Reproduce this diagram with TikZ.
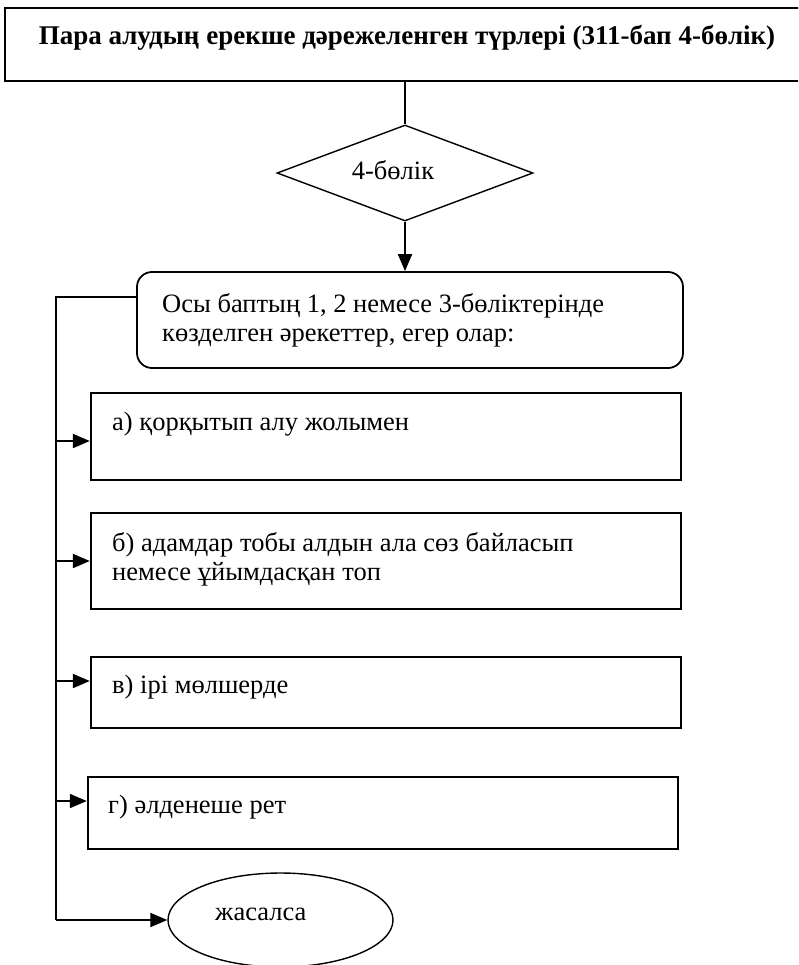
\documentclass[tikz,border=0pt]{standalone}
\usepackage{fontspec}
\setmainfont{Liberation Serif}
\usepackage{tikz}
\usetikzlibrary{positioning, shapes.geometric, arrows.meta}
\tikzset{
	headnode/.style={
			draw=black,
			line width=2pt,
			minimum width=805pt,
			minimum height=73pt,
			inner sep=0pt
		},
	choicenode/.style={
			diamond,
			draw=black,
			line width=1.4pt,
			minimum width=256pt,
			minimum height=96pt,
			inner sep=0pt
		},
	roundnode/.style={
			draw=black,
			line width=1.8pt,
			rounded corners=15pt,
			minimum width=546pt,
			minimum height=96pt,
			inner sep=0pt
		},
	itemnode/.style={
			draw=black,
			line width=2.4pt,
			inner sep=0pt
		},
	endnode/.style={
			ellipse,
			draw=black,
			line width=1.4pt,
			minimum width=225pt,
			minimum height=94pt,
			inner sep=0pt
		},
	textnode/.style={
			inner sep=0pt,
			align=left,
			font=\rmfamily\fontsize{26.5}{29}\selectfont
		},
	titlenode/.style={
			inner sep=0pt,
			font=\rmfamily\fontsize{27}{30}\selectfont\bfseries
		},
	conn/.style={
			line width=2pt
		},
	arrowline/.style={
			line width=2pt,
			-{Triangle[length=17pt,width=14pt]}
		}
}

\begin{document}
\begin{tikzpicture}[x=1pt, y=-1pt]
\useasboundingbox (0,0) rectangle (798,965);
\clip (0,0) rectangle (798,965);
\node[headnode] (head) at (407.5,44.5) {};
\node[titlenode, anchor=base] (title) at (407,45) {Пара алудың ерекше дәрежеленген түрлері (311-бап 4-бөлік)};

\node[choicenode] (part) at (405,173) {};
\node[textnode, anchor=base] (parttext) at (393,180) {4-бөлік};

\node[roundnode] (acts) at (410,320) {};
\node[textnode, anchor=base west] (actstext) at (162,341) {Осы баптың 1, 2 немесе 3-бөліктерінде\\көзделген әрекеттер, егер олар:};

\node[itemnode, minimum width=590pt, minimum height=87pt] (boxa) at (386,436.5) {};
\node[itemnode, minimum width=590pt, minimum height=96pt] (boxb) at (386,561) {};
\node[itemnode, minimum width=590pt, minimum height=71pt] (boxc) at (386,692.5) {};
\node[itemnode, minimum width=590pt, minimum height=72pt] (boxd) at (383,813) {};
\node[endnode] (done) at (280.5,920) {};

\node[textnode, anchor=base west] (texta) at (112,430) {а) қорқытып алу жолымен};
\node[textnode, anchor=base west] (textb) at (112,580) {б) адамдар тобы алдын ала сөз байласып\\немесе ұйымдасқан топ};
\node[textnode, anchor=base west] (textc) at (112,693) {в) ірі мөлшерде};
\node[textnode, anchor=base west] (textd) at (108,813) {г) әлденеше рет};
\node[textnode, anchor=base west] (donetext) at (215,920) {жасалса};

\draw[conn] (head.south -| part.north) -- (part.north);
\draw[arrowline] (part.south) -- (part.south |- acts.north);

% left trunk
\coordinate (t0) at (56,297);
\coordinate (ta) at (56,441);
\coordinate (tb) at (56,561);
\coordinate (tc) at (56,681);
\coordinate (td) at (56,801);
\coordinate (te) at (56,920);
\draw[conn] (t0 -| acts.west) -- (t0) -- (te);
\draw[arrowline] (ta) -- (ta -| boxa.west);
\draw[arrowline] (tb) -- (tb -| boxb.west);
\draw[arrowline] (tc) -- (tc -| boxc.west);
\draw[arrowline] (td) -- (td -| boxd.west);
\draw[arrowline] (te) -- (done.west);
\end{tikzpicture}
\end{document}
